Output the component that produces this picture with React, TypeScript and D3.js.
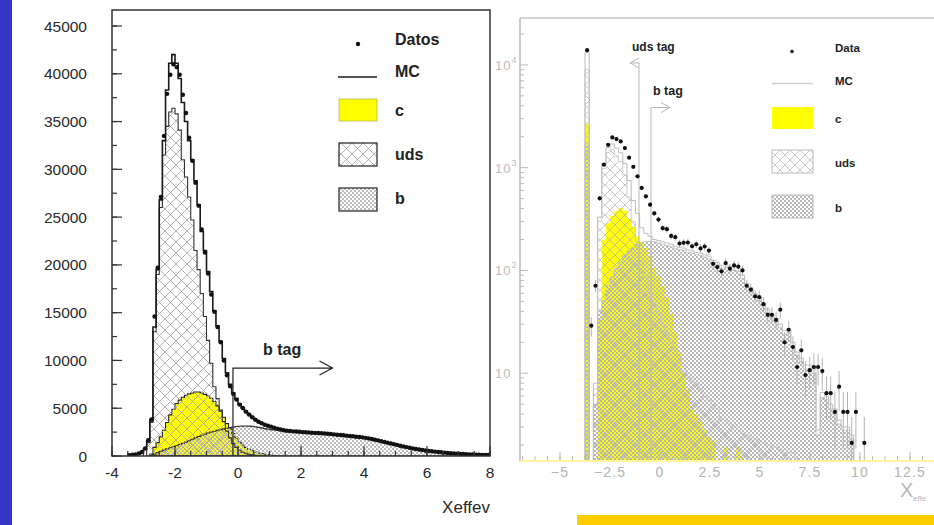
import React from "react";
import * as d3 from "d3";

const W = 934;
const H = 525;

// ---------------- LEFT PANEL (linear) ----------------
const leftBinStart = -3.5;
const leftBinWidth = 0.1;
const leftData = [
  90, 125, 165, 265, 420, 790, 1660, 3820, 14600, 19700,
  27100, 33500, 37900, 39900, 41000, 40700, 39900, 37800, 35900, 33300,
  30900, 28600, 26200, 23700, 21300, 19100, 16900, 15100, 13500, 11900,
  10000, 8450, 7300, 6500, 5900, 5380, 5020, 4640, 4340, 4060,
  3790, 3590, 3430, 3270, 3160, 3070, 2960, 2870, 2780, 2700,
  2650, 2610, 2580, 2560, 2530, 2500, 2480, 2460, 2440, 2420,
  2400, 2380, 2360, 2330, 2300, 2260, 2230, 2200, 2170, 2130,
  2090, 2060, 2020, 1990, 1950, 1900, 1840, 1780, 1700, 1630,
  1540, 1470, 1390, 1310, 1240, 1160, 1080, 1000, 930, 860,
  790, 730, 680, 630, 580, 540, 500, 460, 420, 390,
  355, 325, 300, 275, 250, 225, 205, 190, 175, 160,
  145, 132, 120, 110, 100,
];
const leftMC = [
  60, 90, 130, 200, 350, 700, 1500, 3700, 13500, 19500,
  26800, 33000, 38300, 41100, 42000, 41100, 39500, 37000, 35000, 33000,
  31000, 28800, 26300, 23500, 21500, 19300, 17200, 15200, 13600, 12000,
  10200, 8700, 7500, 6600, 6000, 5450, 5050, 4700, 4350, 4080,
  3820, 3600, 3430, 3290, 3170, 3060, 2950, 2860, 2780, 2710,
  2660, 2620, 2590, 2560, 2530, 2510, 2480, 2460, 2450, 2430,
  2400, 2380, 2350, 2330, 2300, 2270, 2240, 2200, 2160, 2130,
  2100, 2060, 2020, 1980, 1940, 1890, 1840, 1770, 1700, 1620,
  1550, 1470, 1380, 1310, 1230, 1150, 1070, 1000, 930, 860,
  800, 740, 690, 630, 580, 540, 500, 460, 425, 390,
  355, 325, 295, 270, 250, 230, 210, 190, 175, 160,
  148, 135, 125, 115, 105,
];
const leftUdsStart = -2.9;
const leftUds = [
  1400, 3500, 13000, 19000, 26000, 31500, 34500, 36000, 36400, 35800,
  34100, 31000, 29200, 27100, 24700, 21500, 19500, 17000, 14600, 12100,
  9700, 7250, 6000, 4800, 3600, 2600, 1900, 1300, 900, 600,
  400, 280, 180, 120, 80, 50, 30, 20, 10,
];
const leftCStart = -2.8;
const leftC = [
  200, 900, 1400, 2000, 2700, 3500, 4300, 4900, 5500, 5850,
  6150, 6350, 6500, 6600, 6700, 6700, 6600, 6450, 6300, 6050,
  5700, 5250, 4700, 4050, 3400, 2850, 2350, 1900, 1450, 1150,
  900, 700, 550, 420, 320, 250, 180, 130, 90, 60,
  35, 20, 10,
];
const leftBStart = -2.8;
const leftB = [
  50, 200, 350, 500, 620, 750, 870, 970, 1080, 1200,
  1320, 1450, 1600, 1760, 1900, 2040, 2170, 2290, 2400, 2500,
  2590, 2680, 2760, 2840, 2910, 2970, 3030, 3080, 3110, 3130,
  3140, 3130, 3100, 3060, 3000, 2940, 2870, 2810, 2760, 2720,
  2690, 2650, 2620, 2590, 2570, 2550, 2530, 2500, 2480, 2460,
  2440, 2420, 2400, 2380, 2350, 2330, 2300, 2270, 2240, 2210,
  2170, 2130, 2100, 2060, 2020, 1990, 1950, 1910, 1860, 1800,
  1740, 1670, 1590, 1520, 1440, 1360, 1280, 1200, 1120, 1040,
  970, 900, 830, 770, 710, 660, 610, 560, 520, 480,
  440, 405, 370, 340, 310, 285, 260, 240, 220, 200,
  180, 165, 150, 140, 128, 118, 108, 98,
];
const leftYTicks = [0, 5000, 10000, 15000, 20000, 25000, 30000, 35000, 40000, 45000];
const leftXTicks = [-4, -2, 0, 2, 4, 6, 8];
const leftCutX = -0.16;
const leftCutLevel = 9200;
const leftCutTip = 3.0;

// ---------------- RIGHT PANEL (log) ----------------
const rightBinStart = -3.75;
const rightBinWidth = 0.21;
const rightData = [
  13900, 29, 71, 503, 1070, 1670, 1970, 1900, 1800, 1550,
  1250, 1020, 824, 636, 526, 437, 360, 313, 258, 252,
  217, 211, 183, 186, 187, 172, 180, 164, 171, 156,
  116, 108, 98, 118, 104, 112, 109, 100, 71, 65,
  56, 55, 47, 37, 37, 33, 41.5, 20, 26.5, 18,
  11.5, 16.7, 9.6, 10.7, 11.5, 11.5, 10.5, 6.4, 6.4, 4.2,
  7.4, 4.2, 4.2, 2.1, 4.2, 0, 2.1, 0,
];
const rightMC = [
  13200, 0, 8, 330, 1090, 1570, 1700, 1550, 1400, 1100,
  750, 480, 360, 260, 230, 215, 200, 195, 190, 185,
  180, 172, 168, 165, 158, 155, 150, 148, 142, 138,
  125, 120, 112, 115, 110, 108, 105, 90, 75, 68,
  60, 55, 48, 42, 38, 34, 30, 26, 27, 20,
  16, 14, 12, 12, 11, 2.8, 6.5, 6, 5, 4.5,
  3.5, 3, 3, 2.5,
];
const rightC = [
  2670, 0, 0, 33, 200, 290, 340, 380, 405, 380,
  320, 265, 215, 190, 165, 140, 105, 88, 70, 55,
  38, 25, 16, 10, 7, 4.5, 4, 3.4, 2.8, 2.4,
  2.2, 0, 0, 1.9, 0, 0, 1.9,
];
const rightUds = [
  9000, 0, 7, 300, 980, 1400, 1500, 1300, 1150, 850,
  520, 300, 190, 120, 85, 62, 48, 38, 30, 25,
  20, 17, 14, 12, 10, 9, 8, 7, 6, 5.5,
  5, 4.5, 3.6, 3.5, 3.2, 3, 2.8, 2.6, 2.5, 2.4,
  2.3, 2.2, 2.1, 2, 2, 1.9, 1.8, 1.8, 1.7, 1.7,
];
const rightB = [
  1700, 0, 5, 40, 51, 71, 86, 105, 120, 140,
  155, 165, 178, 185, 190, 192, 190, 185, 180, 175,
  170, 163, 160, 157, 150, 148, 143, 140, 135, 130,
  118, 113, 105, 108, 103, 101, 98, 84, 70, 63,
  56, 51, 45, 39, 35, 32, 28, 24, 25, 18.5,
  15, 13, 11, 11, 10, 2.5, 5.8, 5.5, 4.5, 4,
  3.2, 2.8, 2.8, 2.3,
];
const rightXTicks = [-5, -2.5, 0, 2.5, 5, 7.5, 10, 12.5];
const rightYDecades = [10, 100, 1000, 10000];
const rightUdsCut = -1.05;
const rightUdsLevel = 10450;
const rightUdsTip = -1.5;
const rightBCut = -0.45;
const rightBLevel = 3850;
const rightBTip = 0.5;

// ---------------- helpers ----------------
type Pt = [number, number];
function stepPoints(start: number, width: number, vals: number[]): Pt[] {
  const pts: Pt[] = [[start, 0]];
  vals.forEach((v, i) => {
    pts.push([start + i * width, v]);
    pts.push([start + (i + 1) * width, v]);
  });
  pts.push([start + vals.length * width, 0]);
  return pts;
}

const FONT = "'Liberation Sans', Arial, Helvetica, sans-serif";

export default function App() {
  const lx = d3.scaleLinear().domain([-4, 8]).range([112, 490]);
  const ly = d3.scaleLinear().domain([0, 45000]).range([456, 26]);
  const lline = d3
    .line<Pt>()
    .x((d) => lx(d[0]))
    .y((d) => ly(d[1]));
  const lHist = (s: number, vals: number[]) => lline(stepPoints(s, leftBinWidth, vals)) || "";

  const rx = d3.scaleLinear().domain([-7, 13.7]).range([520, 934]);
  const ry = d3.scaleLog().domain([1.4, 28600]).range([461, 18]);
  const rFloor = 1.4;
  const rline = d3
    .line<Pt>()
    .x((d) => rx(d[0]))
    .y((d) => ry(Math.max(d[1], rFloor)));
  const rHist = (vals: number[]) => rline(stepPoints(rightBinStart, rightBinWidth, vals)) || "";

  const leftXMinor = d3.range(-4, 8.001, 0.5);
  const leftYMinor = d3.range(0, 45001, 2500);
  const rightXMinor = d3.range(-6.875, 13.7, 0.625);
  const rightYMinor: number[] = [];
  [1, 10, 100, 1000, 10000].forEach((dec) => {
    for (let k = 2; k <= 9; k++) {
      const v = k * dec;
      if (v >= 1.4 && v <= 28600) rightYMinor.push(v);
    }
  });

  const lc = (i: number) => leftBinStart + (i + 0.5) * leftBinWidth;
  const rc = (i: number) => rightBinStart + (i + 0.5) * rightBinWidth;

  return (
    <svg
      width={W}
      height={H}
      viewBox={`0 0 ${W} ${H}`}
      style={{ position: "fixed", left: 0, top: 0, background: "#fff" }}
      fontFamily={FONT}
    >
      <defs>
        <pattern id="udsL" patternUnits="userSpaceOnUse" width={11} height={11}>
          <path d="M0,0 L11,11 M11,0 L0,11" stroke="#a0a0a0" strokeWidth={0.8} fill="none" />
        </pattern>
        <pattern id="bL" patternUnits="userSpaceOnUse" width={4} height={4}>
          <rect x={0} y={0} width={2} height={2} fill="#bdbdbd" />
          <rect x={2} y={2} width={2} height={2} fill="#bdbdbd" />
        </pattern>
        <pattern id="udsR" patternUnits="userSpaceOnUse" width={10} height={10}>
          <path d="M0,0 L10,10 M10,0 L0,10" stroke="#b0b0b0" strokeWidth={0.7} fill="none" />
        </pattern>
        <pattern id="bR" patternUnits="userSpaceOnUse" width={4} height={4}>
          <rect x={0} y={0} width={2} height={2} fill="#b8b8b8" />
          <rect x={2} y={2} width={2} height={2} fill="#b8b8b8" />
        </pattern>
        <clipPath id="clipL">
          <rect x={112} y={10} width={378} height={446} />
        </clipPath>
        <clipPath id="clipR">
          <rect x={520} y={18} width={414} height={443} />
        </clipPath>
      </defs>

      <rect x={0} y={0} width={W} height={H} fill="#ffffff" />
      <rect x={0} y={0} width={12} height={H} fill="#3434c6" />

      {/* ================= RIGHT PANEL ================= */}
      <g>
        <g clipPath="url(#clipR)">
          <path d={rHist(rightC) + "Z"} fill="#ffff00" stroke="none" />
          <path d={rHist(rightB) + "Z"} fill="url(#bR)" stroke="#bdbdbd" strokeWidth={0.8} />
          <path d={rHist(rightUds) + "Z"} fill="url(#udsR)" stroke="#c4c4c4" strokeWidth={0.8} />
          <path d={rHist(rightMC)} fill="none" stroke="#bdbdbd" strokeWidth={1} />
          <path
            d={`M${rx(rightUdsCut)},${ry(rFloor)} L${rx(rightUdsCut)},${ry(rightUdsLevel)} L${rx(rightUdsTip)},${ry(rightUdsLevel)} M${rx(rightUdsTip) + 9},${ry(rightUdsLevel) - 5} L${rx(rightUdsTip)},${ry(rightUdsLevel)} L${rx(rightUdsTip) + 9},${ry(rightUdsLevel) + 5}`}
            fill="none"
            stroke="#b8b8b8"
            strokeWidth={1}
          />
          <path
            d={`M${rx(rightBCut)},${ry(rFloor)} L${rx(rightBCut)},${ry(rightBLevel)} L${rx(rightBTip)},${ry(rightBLevel)} M${rx(rightBTip) - 9},${ry(rightBLevel) - 5} L${rx(rightBTip)},${ry(rightBLevel)} L${rx(rightBTip) - 9},${ry(rightBLevel) + 5}`}
            fill="none"
            stroke="#b8b8b8"
            strokeWidth={1}
          />
          {rightData.map((v, i) =>
            v > 0 ? (
              <line
                key={"re" + i}
                x1={rx(rc(i))}
                x2={rx(rc(i))}
                y1={ry(Math.max(v - 1.15 * Math.sqrt(v), rFloor))}
                y2={ry(v + 1.15 * Math.sqrt(v))}
                stroke="#b5b5b5"
                strokeWidth={1}
              />
            ) : null
          )}
          {rightData.map((v, i) =>
            v > 0 ? <circle key={"rd" + i} cx={rx(rc(i))} cy={ry(v)} r={2.1} fill="#111" /> : null
          )}
        </g>
        <line x1={520} y1={18} x2={934} y2={18} stroke="#a8a8a8" strokeWidth={1.2} />
        <line x1={520} y1={18} x2={520} y2={461} stroke="#a8a8a8" strokeWidth={1.2} />
        <line x1={520} y1={461} x2={934} y2={461} stroke="#fff59a" strokeWidth={2} />
        {rightXMinor.map((v, i) => (
          <line key={"rxm" + i} x1={rx(v)} x2={rx(v)} y1={460} y2={456} stroke="#bbb" strokeWidth={1} />
        ))}
        {rightXTicks.map((v) => (
          <line key={"rxM" + v} x1={rx(v)} x2={rx(v)} y1={460} y2={452} stroke="#bbb" strokeWidth={1} />
        ))}
        {rightXTicks.map((v) => (
          <text
            key={"rxl" + v}
            x={rx(v)}
            y={477}
            textAnchor="middle"
            fontSize={14}
            letterSpacing={1.2}
            fill="#b4b4b4"
          >
            {v < 0 ? "\u2212" + Math.abs(v) : String(v)}
          </text>
        ))}
        <text x={900} y={497} fontSize={20} fill="#b8b8b8">
          X
        </text>
        <text x={913} y={501} fontSize={8} fill="#b8b8b8">
          effe
        </text>
        {rightYMinor.map((v, i) => (
          <line key={"rym" + i} x1={520} x2={524} y1={ry(v)} y2={ry(v)} stroke="#bbb" strokeWidth={1} />
        ))}
        {rightYDecades.map((v) => (
          <line key={"ryM" + v} x1={520} x2={528} y1={ry(v)} y2={ry(v)} stroke="#bbb" strokeWidth={1} />
        ))}
        {rightYDecades.map((v) => (
          <text key={"ryl" + v} x={495} y={ry(v) + 5} fontSize={13} letterSpacing={1} fill="#bcbcbc">
            10
            {v > 10 ? (
              <tspan dy={-7} fontSize={9}>
                {String(Math.round(Math.log10(v)))}
              </tspan>
            ) : null}
          </text>
        ))}
        <text x={632} y={51} fontSize={12} fontWeight="bold" fill="#222">
          uds tag
        </text>
        <text x={653} y={95} fontSize={12.5} fontWeight="bold" fill="#222">
          b tag
        </text>
        <circle cx={792} cy={51.5} r={1.8} fill="#111" />
        <text x={835} y={52} fontSize={11.5} fontWeight="bold" fill="#222">
          Data
        </text>
        <line x1={772} x2={813} y1={83.5} y2={83.5} stroke="#cfcfcf" strokeWidth={1.5} />
        <text x={835} y={85} fontSize={11.5} fontWeight="bold" fill="#222">
          MC
        </text>
        <rect x={772} y={107} width={41} height={22} fill="#ffff00" />
        <text x={835} y={123} fontSize={11.5} fontWeight="bold" fill="#222">
          c
        </text>
        <rect x={772} y={150} width={41} height={23} fill="url(#udsR)" stroke="#bbb" strokeWidth={1} />
        <text x={835} y={167} fontSize={11.5} fontWeight="bold" fill="#222">
          uds
        </text>
        <rect x={772} y={195} width={41} height={23} fill="url(#bR)" stroke="#bbb" strokeWidth={1} />
        <text x={835} y={212} fontSize={11.5} fontWeight="bold" fill="#222">
          b
        </text>
        <rect x={577} y={515} width={357} height={10} fill="#ffcc00" />
      </g>

      {/* ================= LEFT PANEL ================= */}
      <g>
        <rect x={112} y={10} width={378} height={446} fill="#fff" />
        <g clipPath="url(#clipL)">
          <path d={lHist(leftCStart, leftC) + "Z"} fill="#ffff00" stroke="#222" strokeWidth={1.1} />
          <path d={lHist(leftBStart, leftB) + "Z"} fill="url(#bL)" stroke="#333" strokeWidth={1.1} />
          <path d={lHist(leftUdsStart, leftUds) + "Z"} fill="url(#udsL)" stroke="#333" strokeWidth={1.1} />
          <path d={lHist(leftBinStart, leftMC)} fill="none" stroke="#1a1a1a" strokeWidth={1.6} />
          {leftData.map((v, i) => (
            <circle key={"ld" + i} cx={lx(lc(i))} cy={ly(v)} r={2.2} fill="#111" />
          ))}
          <path
            d={`M${lx(leftCutX)},${ly(0)} L${lx(leftCutX)},${ly(leftCutLevel)} L${lx(leftCutTip)},${ly(leftCutLevel)} M${lx(leftCutTip) - 13},${ly(leftCutLevel) - 7} L${lx(leftCutTip)},${ly(leftCutLevel)} L${lx(leftCutTip) - 13},${ly(leftCutLevel) + 7}`}
            fill="none"
            stroke="#222"
            strokeWidth={1.2}
          />
        </g>
        <rect x={112} y={10} width={378} height={446} fill="none" stroke="#333" strokeWidth={1.5} />
        {leftYMinor.map((v) => (
          <line key={"lym" + v} x1={112} x2={117} y1={ly(v)} y2={ly(v)} stroke="#333" strokeWidth={1.2} />
        ))}
        {leftYTicks.map((v) => (
          <line key={"lyM" + v} x1={112} x2={122} y1={ly(v)} y2={ly(v)} stroke="#333" strokeWidth={1.2} />
        ))}
        {leftYTicks.map((v) => (
          <text key={"lyl" + v} x={87} y={ly(v) + 5.5} textAnchor="end" fontSize={15.5} fill="#2a2a2a">
            {String(v)}
          </text>
        ))}
        {leftXMinor.map((v, i) => (
          <line key={"lxm" + i} x1={lx(v)} x2={lx(v)} y1={456} y2={451} stroke="#333" strokeWidth={1.2} />
        ))}
        {leftXTicks.map((v) => (
          <line key={"lxM" + v} x1={lx(v)} x2={lx(v)} y1={456} y2={446} stroke="#333" strokeWidth={1.2} />
        ))}
        {leftXTicks.map((v) => (
          <text key={"lxl" + v} x={lx(v)} y={478} textAnchor="middle" fontSize={15.5} fill="#2a2a2a">
            {String(v)}
          </text>
        ))}
        <text x={490} y={513} textAnchor="end" fontSize={17} fill="#2a2a2a">
          Xeffev
        </text>
        <text x={263} y={355} fontSize={16} fontWeight="bold" fill="#222">
          b tag
        </text>
        <circle cx={358} cy={44} r={2.2} fill="#111" />
        <text x={395} y={45} fontSize={16} fontWeight="bold" fill="#222">
          Datos
        </text>
        <line x1={338} x2={377} y1={77} y2={77} stroke="#555" strokeWidth={2} />
        <text x={395} y={77} fontSize={16} fontWeight="bold" fill="#222">
          MC
        </text>
        <rect x={339} y={99} width={38} height={22} fill="#ffff00" stroke="#b8b860" strokeWidth={0.8} />
        <text x={395} y={116} fontSize={16} fontWeight="bold" fill="#222">
          c
        </text>
        <rect x={339} y={143} width={38} height={23} fill="url(#udsL)" stroke="#333" strokeWidth={1.3} />
        <text x={395} y={160} fontSize={16} fontWeight="bold" fill="#222">
          uds
        </text>
        <rect x={339} y={188} width={38} height={23} fill="url(#bL)" stroke="#333" strokeWidth={1.3} />
        <text x={395} y={204} fontSize={16} fontWeight="bold" fill="#222">
          b
        </text>
      </g>
    </svg>
  );
}
